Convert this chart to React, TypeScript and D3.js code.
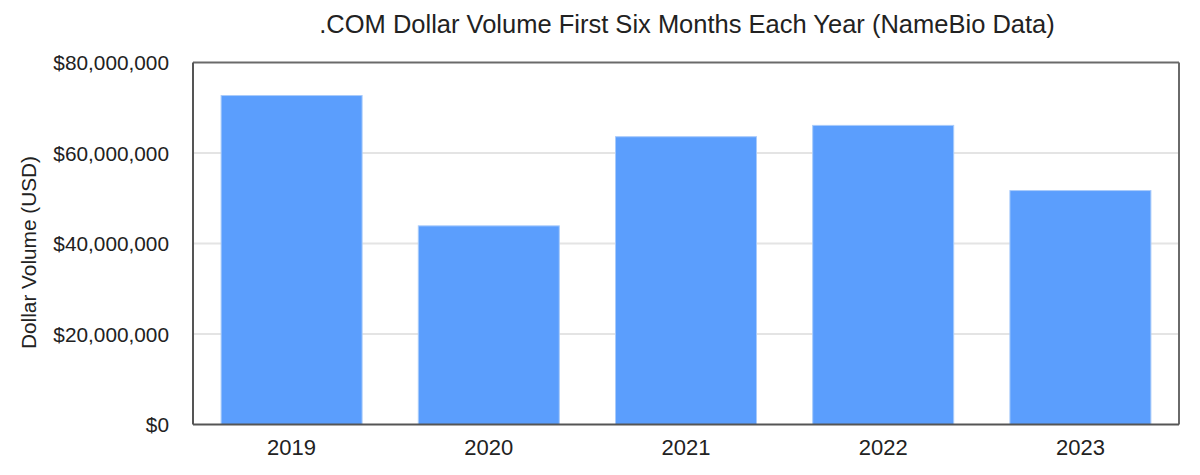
import React from "react";
import * as d3 from "d3";

const years = ["2019", "2020", "2021", "2022", "2023"];
const volumes = [72700000, 43900000, 63600000, 66100000, 51700000];
const yTicks = [0, 20000000, 40000000, 60000000, 80000000];
const title = ".COM Dollar Volume First Six Months Each Year (NameBio Data)";
const yLabel = "Dollar Volume (USD)";

export default function App() {
  const W = 1200, H = 475;
  const left = 193, right = 1179, top = 62.5, bottom = 424.5;
  const x = d3.scaleBand().domain(years).range([left, right]).paddingInner(0.285).paddingOuter(0.1425);
  const y = d3.scaleLinear().domain([0, 80000000]).range([bottom, top]);
  const fmt = (v: number) => "$" + d3.format(",")(v);
  const font = "Liberation Sans, Arial, Helvetica, sans-serif";
  return (
    <svg width={W} height={H} style={{ position: "absolute", left: 0, top: 0 }} fontFamily={font}>
      <rect width={W} height={H} fill="#fff" />
      <text x={687} y={33} textAnchor="middle" fontSize={25.5} fill="#222">{title}</text>
      {yTicks.filter(t => t > 0 && t < 80000000).map(t => (
        <line key={t} x1={left} x2={right} y1={y(t)} y2={y(t)} stroke="#e4e4e4" strokeWidth={2} />
      ))}
      {years.map((yr, i) => (
        <rect key={yr} x={x(yr)} y={y(volumes[i])} width={x.bandwidth()} height={bottom - y(volumes[i])}
          fill="#5b9efd" stroke="#a9cbfb" strokeWidth={1} />
      ))}
      <line x1={left} x2={right} y1={top} y2={top} stroke="#6a6a6a" strokeWidth={2} />
      <line x1={right} x2={right} y1={top} y2={bottom} stroke="#6a6a6a" strokeWidth={2} />
      <line x1={left} x2={left} y1={top} y2={bottom} stroke="#555" strokeWidth={2} />
      <line x1={left} x2={right} y1={bottom} y2={bottom} stroke="#555" strokeWidth={2} />
      {yTicks.map(t => (
        <text key={t} x={169} y={y(t) + 7.5} textAnchor="end" fontSize={20.8} fill="#222">{fmt(t)}</text>
      ))}
      {years.map(yr => (
        <text key={yr} x={(x(yr) as number) + x.bandwidth() / 2} y={455} textAnchor="middle" fontSize={22} fill="#222">{yr}</text>
      ))}
      <text transform={`translate(36,${(top + bottom) / 2 + 9}) rotate(-90)`} textAnchor="middle" fontSize={20.8} fill="#222">{yLabel}</text>
    </svg>
  );
}
